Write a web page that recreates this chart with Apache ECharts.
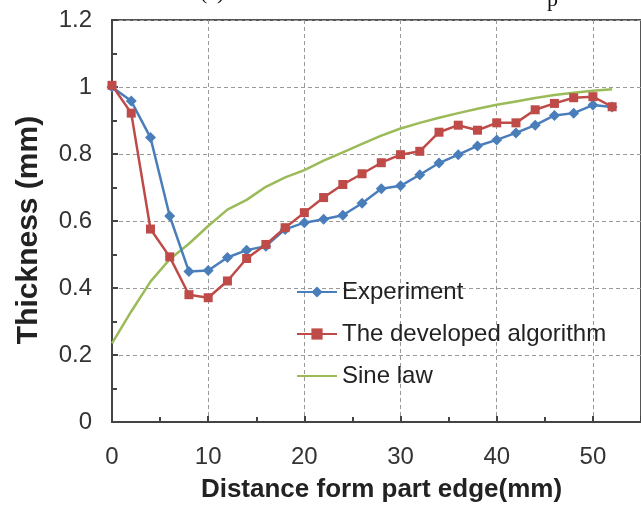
<!DOCTYPE html>
<html>
<head>
<meta charset="utf-8">
<title>Thickness distribution</title>
<script src="https://cdn.jsdelivr.net/npm/echarts@6/dist/echarts.min.js"></script>
<style>
  html, body { margin: 0; padding: 0; background: #fff; }
  #chart { width: 641px; height: 508px; }
</style>
</head>
<body>
<div id="chart"></div>
<script>
// Measurement positions along the part (mm)
const distances = [0, 2, 4, 6, 8, 10, 12, 14, 16, 18, 20, 22, 24, 26, 28, 30,
                   32, 34, 36, 38, 40, 42, 44, 46, 48, 50, 52];

// Wall thickness (mm) for each method
const experiment = [1.00, 0.958, 0.849, 0.615, 0.449, 0.452, 0.491, 0.513, 0.525, 0.575,
                    0.595, 0.605, 0.617, 0.653, 0.696, 0.705, 0.738, 0.773, 0.798, 0.824,
                    0.842, 0.863, 0.886, 0.915, 0.922, 0.946, 0.940];
const developed = [1.005, 0.922, 0.576, 0.493, 0.380, 0.371, 0.421, 0.488, 0.530, 0.580,
                   0.625, 0.670, 0.709, 0.741, 0.774, 0.798, 0.808, 0.865, 0.886, 0.871,
                   0.893, 0.893, 0.932, 0.951, 0.968, 0.971, 0.941];
const sineLaw = [0.235, 0.330, 0.419, 0.486, 0.532, 0.585, 0.634, 0.663, 0.702, 0.730,
                 0.752, 0.780, 0.805, 0.830, 0.855, 0.876, 0.893, 0.908, 0.922, 0.935,
                 0.947, 0.957, 0.967, 0.976, 0.983, 0.989, 0.993];

const seriesNames = ['Experiment', 'The developed algorithm', 'Sine law'];
const xTicks = { min: 0, max: 55, interval: 10 };
const yTicks = { min: 0, max: 1.2, interval: 0.2 };

const pairs = vals => distances.map((d, i) => [d, vals[i]]);

const FONT = '"Liberation Sans", Arial, sans-serif';
const chart = echarts.init(document.getElementById('chart'), null, { renderer: 'canvas' });

chart.setOption({
  backgroundColor: '#ffffff',
  animation: false,
  graphic: [
    { type: 'text', left: 200, top: -18,
      style: { text: '(a)', font: '22px "Liberation Serif", "Times New Roman", serif', fill: '#111' } },
    { type: 'text', left: 547, top: -11,
      style: { text: 'p', font: '22px "Liberation Serif", "Times New Roman", serif', fill: '#111' } }
  ],
  grid: {
    left: 112, top: 20, width: 536, height: 410,
    show: true, borderColor: '#555', borderWidth: 2, containLabel: false
  },
  legend: {
    data: [
      { name: seriesNames[0] },
      { name: seriesNames[1] },
      { name: seriesNames[2], itemStyle: { opacity: 0 } }
    ],
    orient: 'vertical',
    left: 296, top: 280, padding: 0,
    itemWidth: 40, itemHeight: 14, itemGap: 18,
    textStyle: { fontFamily: FONT, fontSize: 24, color: '#222' }
  },
  xAxis: {
    type: 'value',
    min: xTicks.min, max: xTicks.max, interval: xTicks.interval,
    name: 'Distance form part edge(mm)',
    nameLocation: 'middle', nameGap: 55,
    nameTextStyle: { fontFamily: FONT, fontSize: 26, fontWeight: 'bold', color: '#222', padding: [0, 0, 0, 10] },
    axisLine: { lineStyle: { color: '#444', width: 2 } },
    axisTick: { inside: true, length: 6, lineStyle: { color: '#444', width: 2 } },
    minorTick: { show: true, splitNumber: 2, length: 5, lineStyle: { color: '#444', width: 2 } },
    axisLabel: { fontFamily: FONT, fontSize: 24, color: '#333', margin: 23, showMaxLabel: false },
    splitLine: { show: true, lineStyle: { color: '#9a9a9a', type: [4, 3], width: 1 } }
  },
  yAxis: {
    type: 'value',
    min: yTicks.min, max: yTicks.max, interval: yTicks.interval,
    name: 'Thickness (mm)',
    nameLocation: 'middle', nameGap: 68,
    nameTextStyle: { fontFamily: FONT, fontSize: 30, fontWeight: 'bold', color: '#222', padding: [0, 18, 0, 0] },
    axisLine: { show: true, lineStyle: { color: '#444', width: 2 } },
    axisTick: { show: true, inside: true, length: 6, lineStyle: { color: '#444', width: 2 } },
    minorTick: { show: true, splitNumber: 2, length: 5, lineStyle: { color: '#444', width: 2 } },
    axisLabel: { fontFamily: FONT, fontSize: 24, color: '#333', margin: 20 },
    splitLine: { show: true, lineStyle: { color: '#9a9a9a', type: [4, 3], width: 1 } }
  },
  series: [
    {
      name: 'Sine law', type: 'line', data: pairs(sineLaw),
      showSymbol: false, symbol: 'none',
      lineStyle: { color: '#9BBB59', width: 2.5 },
      itemStyle: { color: '#9BBB59' }, z: 2
    },
    {
      name: 'Experiment', type: 'line', data: pairs(experiment),
      symbol: 'diamond', symbolSize: 11,
      lineStyle: { color: '#4A7EBB', width: 2.5 },
      itemStyle: { color: '#4A7EBB' }, z: 3
    },
    {
      name: 'The developed algorithm', type: 'line', data: pairs(developed),
      symbol: 'rect', symbolSize: 9,
      lineStyle: { color: '#BE4B48', width: 2.5 },
      itemStyle: { color: '#BE4B48' }, z: 4
    }
  ]
});
</script>
</body>
</html>
